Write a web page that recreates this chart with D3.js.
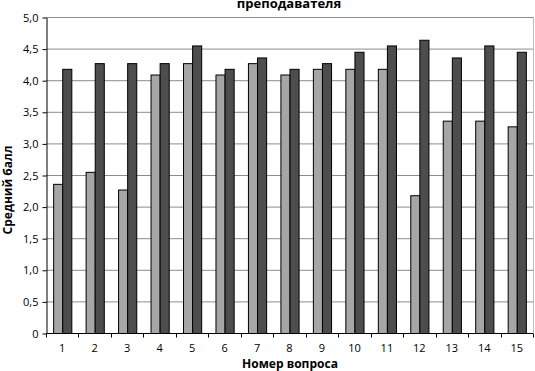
<!DOCTYPE html>
<html>
<head>
<meta charset="utf-8">
<script src="https://cdn.jsdelivr.net/npm/d3@7"></script>
<style>
  body { margin: 0; background: #fff; }
  svg { display: block; font-family: "Open Sans", sans-serif; }
</style>
</head>
<body>
<svg id="chart" width="535" height="371"></svg>
<script>
// question numbers
const questions = ['1','2','3','4','5','6','7','8','9','10','11','12','13','14','15'];
// two series (light / dark bars)
const seriesLight = [2.36, 2.55, 2.27, 4.09, 4.27, 4.09, 4.27, 4.09, 4.18, 4.18, 4.18, 2.18, 3.36, 3.36, 3.27];
const seriesDark  = [4.18, 4.27, 4.27, 4.27, 4.55, 4.18, 4.36, 4.18, 4.27, 4.45, 4.55, 4.64, 4.36, 4.55, 4.45];
const yTicks = [0, 0.5, 1, 1.5, 2, 2.5, 3, 3.5, 4, 4.5, 5];

const svg = d3.select('#chart');
const plotLeft = 46, plotRight = 533, plotTop = 17, plotBottom = 333;

const x0 = d3.scaleBand().domain(questions).range([plotLeft, plotRight]).paddingInner(0.44).paddingOuter(0.22);
const x1 = d3.scaleBand().domain(['light', 'dark']).range([0, x0.bandwidth()]);
const y = d3.scaleLinear().domain([0, 5]).range([plotBottom, plotTop]);
const fmt = v => v === 0 ? '0' : d3.format('.1f')(v).replace('.', ',');

// gridlines
svg.append('g').selectAll('line').data(yTicks.filter(d => d > 0)).enter().append('line')
  .attr('x1', plotLeft).attr('x2', plotRight)
  .attr('y1', d => y(d) + 0.5).attr('y2', d => y(d) + 0.5)
  .attr('stroke', '#8c8c8c').attr('stroke-width', 1);
// right border of plot area
svg.append('line').attr('x1', plotRight + 0.5).attr('x2', plotRight + 0.5).attr('y1', plotTop).attr('y2', plotBottom)
  .attr('stroke', '#bdbdbd');

// bars
const rows = questions.map((q, i) => ({ q, vals: [{ k: 'light', v: seriesLight[i] }, { k: 'dark', v: seriesDark[i] }] }));
const groups = svg.append('g').selectAll('g').data(rows).enter().append('g')
  .attr('transform', d => `translate(${x0(d.q)},0)`);
groups.selectAll('rect').data(d => d.vals).enter().append('rect')
  .attr('x', d => x1(d.k) + 0.5)
  .attr('y', d => y(d.v) + 0.5)
  .attr('width', x1.bandwidth())
  .attr('height', d => y(0) - y(d.v))
  .attr('fill', d => d.k === 'light' ? '#a6a6a6' : '#4d4d4d')
  .attr('stroke', '#000').attr('stroke-width', 1);

// y axis
const yAxis = svg.append('g').attr('transform', `translate(${plotLeft + 0.5},0.5)`)
  .call(d3.axisLeft(y).tickValues(yTicks).tickFormat(fmt).tickSizeInner(4).tickSizeOuter(0).tickPadding(4));
yAxis.select('.domain').attr('stroke', '#000');
yAxis.selectAll('.tick line').attr('stroke', '#000');
yAxis.selectAll('text').attr('font-size', 11).attr('fill', '#000').attr('font-family', '"Open Sans", sans-serif');

// x axis: ticks at group boundaries
const xAxis = svg.append('g').attr('transform', `translate(0,${plotBottom + 0.5})`);
xAxis.append('line').attr('x1', plotLeft).attr('x2', plotRight).attr('stroke', '#000');
const step = x0.step();
xAxis.selectAll('line.tk').data(d3.range(questions.length + 1)).enter().append('line')
  .attr('class', 'tk')
  .attr('x1', i => Math.round(plotLeft + i * step) + 0.5).attr('x2', i => Math.round(plotLeft + i * step) + 0.5)
  .attr('y1', 0).attr('y2', 4).attr('stroke', '#000');
xAxis.selectAll('text').data(questions).enter().append('text')
  .attr('x', d => x0(d) + x0.bandwidth() / 2)
  .attr('y', 18)
  .attr('text-anchor', 'middle')
  .attr('font-size', 11)
  .text(d => d);

// titles
svg.append('text').attr('x', 289).attr('y', 8).attr('text-anchor', 'middle')
  .attr('font-size', 13).attr('font-weight', 'bold').text('преподавателя');
svg.append('text').attr('x', 290).attr('y', 368).attr('text-anchor', 'middle')
  .attr('font-size', 12).attr('font-weight', 'bold').text('Номер вопроса');
svg.append('text').attr('transform', 'translate(12,190) rotate(-90)').attr('text-anchor', 'middle')
  .attr('font-size', 12).attr('font-weight', 'bold').text('Средний балл');
</script>
</body>
</html>
